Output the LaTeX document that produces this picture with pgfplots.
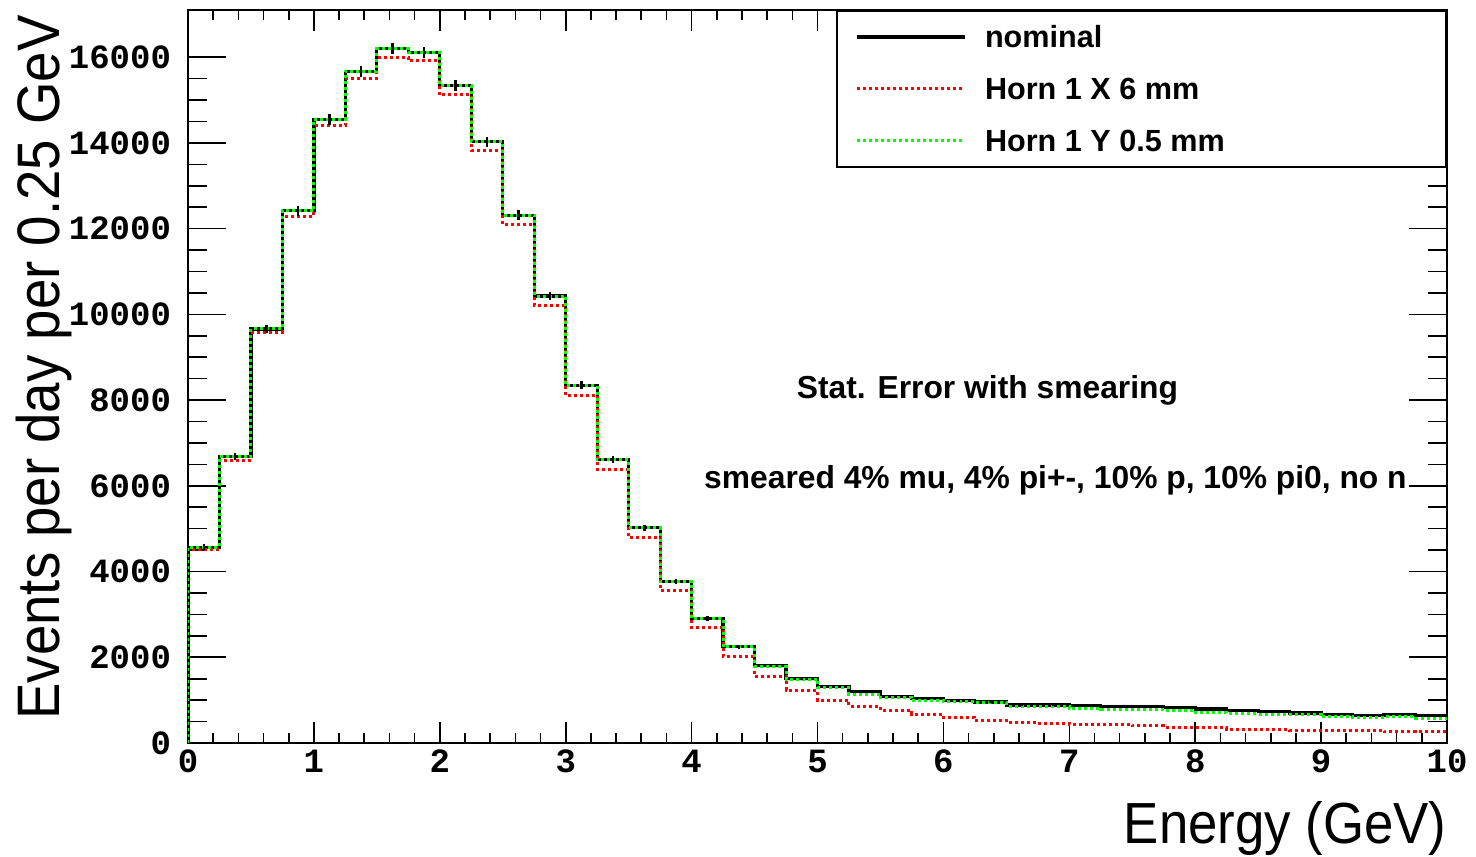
\documentclass[border=0pt]{standalone}
\usepackage{pgfplots}
\pgfplotsset{compat=1.18}
\usepackage{pgfplotstable}
\usepackage{fontspec}
\setmainfont{Liberation Sans}
\newfontfamily\tickfont{Liberation Mono}
\newfontfamily\titlefont[FakeStretch=0.91]{Liberation Sans}

\pgfplotstableread{
x nom red grn
0 0 0 0
0 4570 4520 4570
0.25 6680 6585 6680
0.5 9660 9580 9660
0.75 12415 12290 12415
1 14546 14398 14546
1.25 15673 15503 15673
1.5 16194 16000 16194
1.75 16108 15914 16108
2 15339 15121 15339
2.25 14025 13822 14025
2.5 12315 12097 12315
2.75 10426 10199 10426
3 8343 8117 8343
3.25 6617 6384 6617
3.5 5022 4789 5022
3.75 3763 3552 3763
4 2908 2690 2908
4.25 2247 2029 2247
4.5 1804 1563 1790
4.75 1508 1236 1490
5 1314 1003 1290
5.25 1197 847 1143
5.5 1081 753 1066
5.75 1034 676 988
6 988 599 964
6.25 956 536 941
6.5 886 482 863
6.75 886 459 863
7 871 436 808
7.25 850 436 770
7.5 845 397 770
7.75 832 373 747
8 793 373 715
8.25 762 319 692
8.5 730 319 676
8.75 700 288 676
9 669 288 614
9.25 646 288 591
9.5 669 257 614
9.75 646 257 583
10 646 257 583
}\histdata

\pgfplotstableread{
xc nom err
0.125 4570 68
0.375 6680 82
0.625 9660 98
0.875 12415 111
1.125 14546 121
1.375 15673 125
1.625 16194 127
1.875 16108 127
2.125 15339 124
2.375 14025 118
2.625 12315 111
2.875 10426 102
3.125 8343 91
3.375 6617 81
3.625 5022 71
3.875 3763 61
4.125 2908 54
4.375 2247 47
4.625 1804 42
4.875 1508 39
5.125 1314 36
5.375 1197 35
5.625 1081 33
5.875 1034 32
6.125 988 31
6.375 956 31
6.625 886 30
6.875 886 30
7.125 871 30
7.375 850 29
7.625 845 29
7.875 832 29
8.125 793 28
8.375 762 28
8.625 730 27
8.875 700 26
9.125 669 26
9.375 646 25
9.625 669 26
9.875 646 25
}\errdata

\begin{document}
\begin{tikzpicture}
\useasboundingbox (-94pt,-56.5pt) rectangle (644pt,371.5pt);
\begin{axis}[
  name=ax,
  scale only axis,
  width=629.5pt, height=366.5pt,
  xmin=0, xmax=10, ymin=0, ymax=17100,
  scaled x ticks=false, scaled y ticks=false,
  axis line style={line width=1.2pt},
  xtick={0,1,2,3,4,5,6,7,8,9,10},
  xticklabels={0,1,2,3,4,5,6,7,8,9,10},
  ytick={0,2000,4000,6000,8000,10000,12000,14000,16000},
  yticklabels={0,2000,4000,6000,8000,10000,12000,14000,16000},
  minor x tick num=4,
  minor y tick num=3,
  tick style={line width=0.8pt,black},
  xtick style={/pgfplots/major tick length=10.5pt,/pgfplots/minor tick length=5pt},
  ytick style={/pgfplots/major tick length=19pt,/pgfplots/minor tick length=9.5pt},
  ticklabel style={font=\tickfont\bfseries\fontsize{17}{17}\selectfont},
  yticklabel style={xshift=-5pt},
  legend style={at={(rel axis cs:1,1)}, anchor=north east, draw=black, line width=1pt,
    fill=white, inner xsep=9.5pt, inner ysep=0pt, row sep=0pt,
    font=\bfseries\fontsize{15.3}{15.3}\selectfont,
    nodes={inner xsep=9pt, inner ysep=6pt, text height=12.5pt, text depth=1.5pt}},
  legend cell align=left,
  legend image code/.code={\draw[#1] (0pt,0pt) -- (54pt,0pt);},
]
\addplot[const plot mark left, black, line width=1.6pt] table[x=x,y=nom]{\histdata};
\addlegendentry{\makebox[212pt][l]{nominal}}
\addplot[const plot mark left, red, line width=1.5pt, dash pattern=on 1.5pt off 1.5pt] table[x=x,y=red]{\histdata};
\addlegendentry{\makebox[212pt][l]{Horn 1 X 6 mm}}
\addplot[const plot mark left, green, line width=1.5pt, dash pattern=on 1.5pt off 1.5pt] table[x=x,y=grn]{\histdata};
\addlegendentry{\makebox[212pt][l]{Horn 1 Y 0.5 mm}}
\addplot[forget plot, draw=none, mark=none, error bars/.cd, y dir=both, y explicit,
   error mark=none, error bar style={draw=black, line width=1.2pt, solid}]
   table[x=xc, y=nom, y error=err]{\errdata};
\node[font=\bfseries\fontsize{15.9}{15.9}\selectfont] at (axis cs:6.35,8233) {Stat. Error with smearing};
\node[font=\bfseries\fontsize{15.9}{15.9}\selectfont] at (axis cs:6.89,6134) {smeared 4\% mu, 4\% pi+-, 10\% p, 10\% pi0, no n};
\end{axis}
\node[rotate=90, anchor=base east, inner sep=0pt, font=\titlefont\fontsize{30}{30}\selectfont]
  at ([shift={(-64pt,-2.5pt)}]ax.north west) {Events per day per 0.25 GeV};
\node[anchor=base east, inner sep=0pt, font=\titlefont\fontsize{29}{29}\selectfont]
  at ([shift={(0pt,-50pt)}]ax.south east) {Energy (GeV)};
\end{tikzpicture}
\end{document}
